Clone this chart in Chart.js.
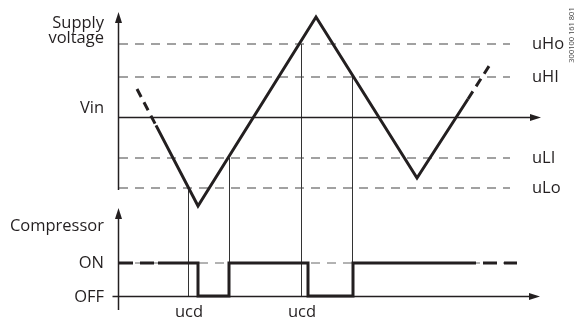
<!DOCTYPE html>
<html>
<head>
<meta charset="utf-8">
<script src="https://cdn.jsdelivr.net/npm/chart.js@4"></script>
<style>
  body { margin: 0; background: #fff; }
  canvas { display: block; }
</style>
</head>
<body>
<canvas id="voltChart" width="583" height="320"></canvas>
<script>
// time axis (arbitrary units), voltage relative to Vin, compressor 1 = ON / 0 = OFF
const voltTime = [18, 37, 79, 197, 298, 349, 372];
const voltValue = [2.8, -0.84, -8.9, 10, -6.1, 1.8, 5.4];
const voltDashed = [0, 5]; // segments drawn dashed

const levelNames = ["uHo", "uHI", "uLI", "uLo"];
const levelValues = [7.3, 4.0, -4.1, -7.1];
const levelEnd = 391;
const vin = 0;

const compTime = [0, 39, 79, 79, 110, 110, 189, 189, 234, 234, 343, 398];
const compState = [1, 1, 1, 0, 0, 1, 1, 0, 0, 1, 1, 1];
const compDashed = [0, 10];

// instants where the supply crosses a limit, and the level it crosses
const crossTime = [69, 110, 182, 233];
const crossLevel = [-7.1, -4.1, 7.3, 4.0];
const ucdAt = [0, 2];

const ink = "#231f20";
const FONT = '"Open Sans", "Noto Sans", sans-serif';

const toPts = (xs, ys) => xs.map((x, i) => ({ x: x, y: ys[i] }));

const datasets = [
  {
    data: toPts(voltTime, voltValue),
    yAxisID: "yV",
    borderColor: ink,
    borderWidth: 3,
    segment: {
      borderDash: (c) => (voltDashed.includes(c.p0DataIndex) ? [9, 6] : undefined),
    },
  },
  {
    data: toPts(compTime, compState),
    yAxisID: "yC",
    borderColor: ink,
    borderWidth: 3,
    segment: {
      borderDash: (c) => (compDashed.includes(c.p0DataIndex) ? [14, 7] : undefined),
    },
  },
  {
    // thin ON reference line
    data: [{ x: 0, y: 1 }, { x: 398, y: 1 }],
    yAxisID: "yC",
    borderColor: "#666",
    borderWidth: 1,
    borderDash: [9, 7],
  },
];

levelValues.forEach((v) => {
  datasets.push({
    data: [{ x: 0, y: v }, { x: levelEnd, y: v }],
    yAxisID: "yV",
    borderColor: "#444",
    borderWidth: 1.1,
    borderDash: [9, 7],
  });
});

function arrow(c, x, y, dir) {
  c.beginPath();
  if (dir === "up") {
    c.moveTo(x, y);
    c.lineTo(x - 3.5, y + 11);
    c.lineTo(x + 3.5, y + 11);
  } else {
    c.moveTo(x, y);
    c.lineTo(x - 11, y - 3.5);
    c.lineTo(x - 11, y + 3.5);
  }
  c.closePath();
  c.fill();
}

const diagram = {
  id: "diagram",
  beforeDatasetsDraw(chart) {
    const c = chart.ctx;
    const sx = chart.scales.x, sv = chart.scales.yV, sc = chart.scales.yC;
    const x0 = Math.round(sx.getPixelForValue(0)) - 0.5;
    const yOff = Math.round(sc.getPixelForValue(0)) + 0.5;
    const yVin = Math.round(sv.getPixelForValue(vin)) + 0.5;
    c.save();
    c.strokeStyle = ink;
    c.fillStyle = ink;

    // guide lines from the crossing to the OFF level
    c.lineWidth = 1;
    c.strokeStyle = "#333";
    crossTime.forEach((t, i) => {
      const px = Math.round(sx.getPixelForValue(t)) + 0.5;
      c.beginPath();
      c.moveTo(px, sv.getPixelForValue(crossLevel[i]));
      c.lineTo(px, yOff);
      c.stroke();
    });

    c.strokeStyle = ink;
    c.lineWidth = 1.5;
    // supply voltage axis
    c.beginPath();
    c.moveTo(x0, 18);
    c.lineTo(x0, sv.getPixelForValue(-7.3));
    c.stroke();
    arrow(c, x0, 12, "up");
    // compressor axis
    c.beginPath();
    c.moveTo(x0, 214);
    c.lineTo(x0, 310);
    c.stroke();
    arrow(c, x0, 208, "up");

    c.lineWidth = 1.3;
    // Vin line
    c.beginPath();
    c.moveTo(x0, yVin);
    c.lineTo(533, yVin);
    c.stroke();
    arrow(c, 541, yVin, "right");
    // OFF line
    c.beginPath();
    c.moveTo(x0 - 6, yOff);
    c.lineTo(532, yOff);
    c.stroke();
    arrow(c, 540, yOff, "right");
    c.restore();
  },
  afterDraw(chart) {
    const c = chart.ctx;
    const sx = chart.scales.x, sv = chart.scales.yV, sc = chart.scales.yC;
    c.save();
    c.fillStyle = ink;
    c.font = "16.5px " + FONT;
    c.textBaseline = "alphabetic";

    c.textAlign = "right";
    c.fillText("Supply", 104, 28);
    c.fillText("voltage", 104, 43);
    c.fillText("Vin", 104, sv.getPixelForValue(vin) - 4);
    c.fillText("Compressor", 104, 231);
    c.fillText("ON", 104, sc.getPixelForValue(1) + 5);
    c.fillText("OFF", 104, sc.getPixelForValue(0) + 6);

    c.textAlign = "left";
    levelNames.forEach((n, i) => {
      c.fillText(n, 532, sv.getPixelForValue(levelValues[i]) + 5);
    });

    c.textAlign = "center";
    ucdAt.forEach((i) => {
      c.fillText("ucd", sx.getPixelForValue(crossTime[i]) + 1, 317);
    });

    // drawing reference number
    c.save();
    c.translate(572, 35);
    c.rotate(-Math.PI / 2);
    c.font = "7.5px " + FONT;
    c.fillStyle = "#444";
    c.textAlign = "center";
    c.fillText("300100 161 801", 0, 2);
    c.restore();
    c.restore();
  },
};

new Chart(document.getElementById("voltChart"), {
  type: "line",
  data: { datasets: datasets },
  options: {
    responsive: false,
    animation: false,
    events: [],
    elements: { point: { radius: 0 }, line: { tension: 0, fill: false } },
    layout: { padding: { left: 119, right: 43, top: 0, bottom: 0 } },
    scales: {
      x: { type: "linear", display: false, min: 0, max: 421 },
      yV: { type: "linear", display: false, min: -20.3, max: 11.7 },
      yC: { type: "linear", display: false, min: -0.727, max: 8.97 },
    },
    plugins: { legend: { display: false }, tooltip: { enabled: false } },
  },
  plugins: [diagram],
});
</script>
</body>
</html>
